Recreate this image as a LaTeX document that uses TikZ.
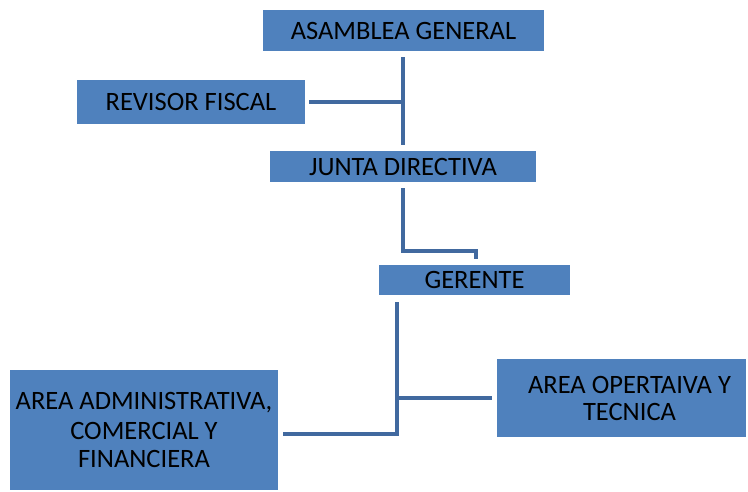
\documentclass[tikz,border=0pt]{standalone}
\usepackage{fontspec}
\setmainfont{Carlito}
\usetikzlibrary{calc}
\definecolor{boxblue}{HTML}{4F81BD}
\definecolor{lineblue}{HTML}{41699F}
\begin{document}
\begin{tikzpicture}[x=1pt,y=-1pt,
  orgbox/.style={fill=boxblue,draw=none,inner sep=0pt,align=center,
    font=\fontsize{26.5}{30}\selectfont,text=black},
  conn/.style={draw=lineblue,line width=4pt}]
\useasboundingbox (0,0) rectangle (748,491);
% boxes
\node[orgbox,minimum width=281pt,minimum height=41pt] (asam) at (403.5,30.5) {ASAMBLEA GENERAL};
\node[orgbox,minimum width=228pt,minimum height=44pt] (rev) at (191,102) {REVISOR FISCAL};
\node[orgbox,minimum width=266pt,minimum height=31pt] (junta) at (403,166.5) {JUNTA DIRECTIVA};
\node[orgbox,minimum width=191pt,minimum height=30pt] (ger) at (474.5,280) {GERENTE};
\node[orgbox,minimum width=268pt,minimum height=120pt] (adm) at (144,430) {AREA ADMINISTRATIVA,\\COMERCIAL Y\\[-2pt]FINANCIERA};
\node[orgbox,minimum width=249pt,minimum height=78pt] (ope) at (621.5,398) {\hspace*{16pt}AREA OPERTAIVA Y\\[-3pt]\hspace*{16pt}TECNICA};
% junction coordinates
\coordinate (a0) at ($(asam.south)+(-0.5,6)$);
\coordinate (a1) at (a0 |- 0,145);
\coordinate (r1) at (a0 |- rev.east);
\coordinate (j0) at ($(junta.south)+(0,6)$);
\coordinate (j1) at (j0 |- 0,251);
\coordinate (g0) at ($(ger.north)+(1.5,-6)$);
\coordinate (j2) at (g0 |- j1);
\coordinate (g1) at (397,302);
\coordinate (g2) at (397,434);
\coordinate (g3) at (397,398);
% connectors
\draw[conn] (a0) -- (a1);
\draw[conn] ($(rev.east)+(4,0)$) -- (r1);
\draw[conn] (j0) -- (j1) -- (j2) -- (g0);
\draw[conn] (g1) -- (g2) -- ($(adm.east |- g2)+(5,0)$);
\draw[conn] (g3) -- ($(ope.west |- g3)+(-5,0)$);
\end{tikzpicture}
\end{document}
